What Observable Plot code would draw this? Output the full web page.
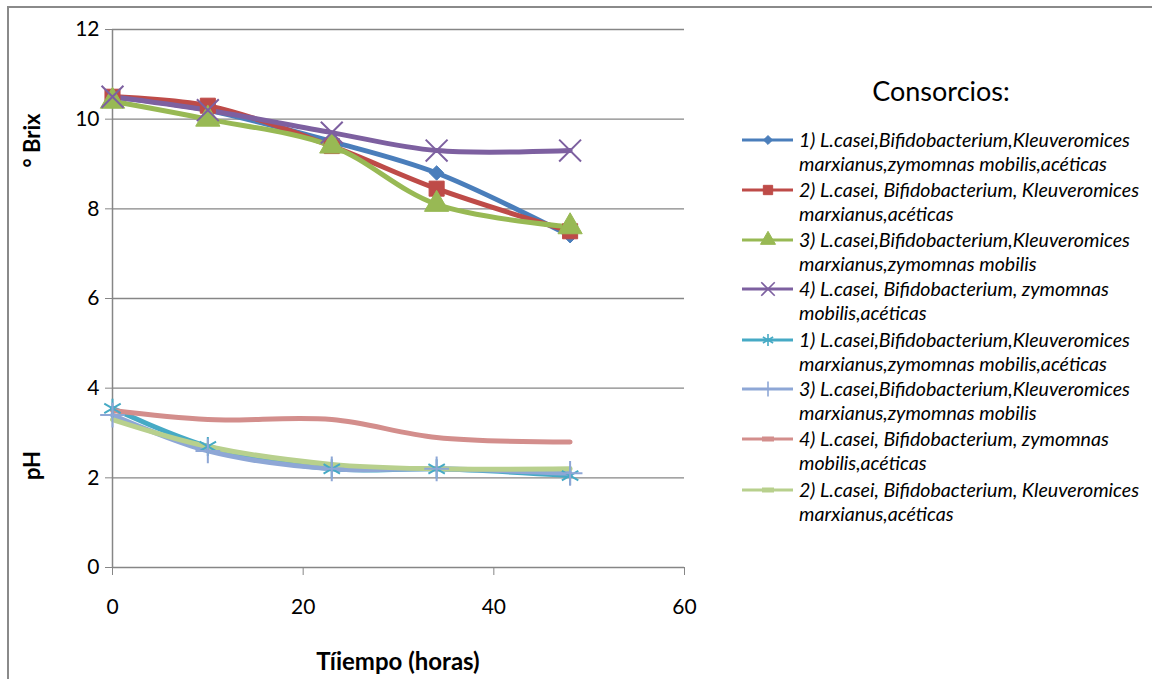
<!DOCTYPE html>
<html>
<head>
<meta charset="utf-8">
<script src="https://cdn.jsdelivr.net/npm/d3@7"></script>
<script src="https://cdn.jsdelivr.net/npm/@observablehq/plot@0.6"></script>
<style>
  html, body { margin: 0; padding: 0; background: #fff; }
  #wrap { position: relative; width: 1152px; height: 679px; overflow: hidden; font-family: Lato, "Open Sans", sans-serif; }
  #frame { position: absolute; left: 7px; top: 6px; width: 1150px; height: 720px; border: 2px solid #8a8a8a; box-sizing: border-box; }
  #chart { position: absolute; left: 0; top: 0; }
  .ytitle { position: absolute; font-weight: bold; font-size: 22px; transform: rotate(-90deg); transform-origin: center; white-space: nowrap; }
  #xtitle { position: absolute; font-weight: bold; font-size: 24px; white-space: nowrap; transform: translate(-50%, -50%); }
  #legend { position: absolute; left: 742px; top: 0; }
  #ltitle { position: absolute; left: 941px; top: 90px; font-size: 27px; transform: translate(-50%, -50%); white-space: nowrap; }
  .entry { position: absolute; left: 0; width: 410px; }
  .entry svg { position: absolute; left: 0; top: 0; }
  .entry .txt { position: absolute; left: 57px; top: -12px; font-size: 19.6px; font-style: italic; line-height: 23.5px; white-space: nowrap; }
</style>
</head>
<body>
<div id="wrap">
  <div id="frame"></div>
  <div id="chart"></div>
  <div class="ytitle" id="ybrix">° Brix</div>
  <div class="ytitle" id="yph">pH</div>
  <div id="xtitle">Tíiempo (horas)</div>
  <div id="ltitle">Consorcios:</div>
  <div id="legend"></div>
</div>
<script>
// ---- data ----
const hours = [0, 10, 23, 34, 48];
const brix1 = [10.5, 10.2, 9.5, 8.8, 7.4];
const brix2 = [10.5, 10.3, 9.4, 8.45, 7.5];
const brix3 = [10.4, 10.0, 9.4, 8.1, 7.6];
const brix4 = [10.5, 10.2, 9.7, 9.3, 9.3];
const ph1 = [3.55, 2.7, 2.2, 2.2, 2.05];
const ph3 = [3.4, 2.6, 2.2, 2.2, 2.1];
const ph4 = [3.5, 3.3, 3.3, 2.9, 2.8];
const ph2 = [3.3, 2.7, 2.3, 2.2, 2.2];
const seriesLabels = [
  ["1) L.casei,Bifidobacterium,Kleuveromices", "marxianus,zymomnas mobilis,acéticas"],
  ["2) L.casei, Bifidobacterium, Kleuveromices", "marxianus,acéticas"],
  ["3) L.casei,Bifidobacterium,Kleuveromices", "marxianus,zymomnas mobilis"],
  ["4) L.casei, Bifidobacterium, zymomnas", "mobilis,acéticas"],
  ["1) L.casei,Bifidobacterium,Kleuveromices", "marxianus,zymomnas mobilis,acéticas"],
  ["3) L.casei,Bifidobacterium,Kleuveromices", "marxianus,zymomnas mobilis"],
  ["4) L.casei, Bifidobacterium, zymomnas", "mobilis,acéticas"],
  ["2) L.casei, Bifidobacterium, Kleuveromices", "marxianus,acéticas"]
];
const xTicks = [0, 20, 40, 60];
const yTicks = [0, 2, 4, 6, 8, 10, 12];

// ---- styles ----
const seriesValues = [brix1, brix2, brix3, brix4, ph1, ph3, ph4, ph2];
const styles = [
  {color: "#4a7ebb", symbol: "diamond2", filled: true, r: 6.5},
  {color: "#be4b48", symbol: "square", filled: true, r: 8.5},
  {color: "#98b954", symbol: "triangle", filled: true, r: 9},
  {color: "#7d60a0", symbol: "times", filled: false, r: 10},
  {color: "#46aac5", symbol: "asterisk", filled: false, r: 9},
  {color: "#8ea7d6", symbol: "plus", filled: false, r: 8},
  {color: "#d38e8c", symbol: null},
  {color: "#b8d08d", symbol: null}
];

const series = seriesValues.map((vals, i) => hours.map((h, j) => ({x: h, y: vals[j], s: i})));

const marks = [
  Plot.ruleY([2, 4, 6, 8, 10, 12], {stroke: "#868686", strokeWidth: 1.3, strokeOpacity: 1}),
  Plot.ruleY([0], {stroke: "#868686", strokeWidth: 1.5}),
  Plot.ruleX([0], {stroke: "#868686", strokeWidth: 1.5, y1: 0, y2: 12}),
  Plot.axisX({ticks: xTicks, tickSize: 8, tickPadding: 24, fontSize: 21, label: null, tickFormat: d => String(d), stroke: "#868686"}),
  Plot.axisY({ticks: yTicks, tickSize: 7, tickPadding: 6, fontSize: 21, label: null, tickFormat: d => String(d), stroke: "#868686"})
];
// lines
series.forEach((data, i) => {
  marks.push(Plot.line(data, {x: "x", y: "y", stroke: styles[i].color, strokeWidth: 5, curve: "catmull-rom"}));
});
// markers
series.forEach((data, i) => {
  const st = styles[i];
  if (!st.symbol) return;
  marks.push(Plot.dot(data, {
    x: "x", y: "y", symbol: st.symbol, r: st.r,
    fill: st.filled ? st.color : "none",
    stroke: st.color, strokeWidth: st.filled ? 1 : 2
  }));
});

const chart = Plot.plot({
  width: 1152,
  height: 679,
  marginLeft: 112,
  marginRight: 468,
  marginTop: 29,
  marginBottom: 112,
  x: {domain: [0, 60]},
  y: {domain: [0, 12]},
  style: {fontFamily: "Lato, 'Open Sans', sans-serif", fontSize: "21px", color: "#000", background: "transparent", overflow: "visible"},
  marks
});
document.getElementById("chart").appendChild(chart);

// axis titles
function place(id, cx, cy) {
  const el = document.getElementById(id);
  const w = el.offsetWidth, h = el.offsetHeight;
  el.style.left = (cx - w / 2) + "px";
  el.style.top = (cy - h / 2) + "px";
}
place("ybrix", 31, 140);
place("yph", 31, 465);
const xt = document.getElementById("xtitle");
xt.style.left = "398px"; xt.style.top = "660px";

// legend
const legend = document.getElementById("legend");
const entryTops = [140, 190, 240, 289, 340, 389, 439, 490];
styles.forEach((st, i) => {
  const e = document.createElement("div");
  e.className = "entry";
  e.style.top = entryTops[i] + "px";
  const svgNS = "http://www.w3.org/2000/svg";
  const svg = document.createElementNS(svgNS, "svg");
  svg.setAttribute("width", 56); svg.setAttribute("height", 20);
  svg.style.top = "-10px";
  const line = document.createElementNS(svgNS, "line");
  line.setAttribute("x1", 0); line.setAttribute("x2", 51);
  line.setAttribute("y1", 10); line.setAttribute("y2", 10);
  line.setAttribute("stroke", st.color); line.setAttribute("stroke-width", 3.2);
  svg.appendChild(line);
  if (st.symbol) {
    const symMap = {diamond2: d3.symbolDiamond2, square: d3.symbolSquare, triangle: d3.symbolTriangle, times: d3.symbolTimes, asterisk: d3.symbolAsterisk, plus: d3.symbolPlus};
    const p = document.createElementNS(svgNS, "path");
    const size = Math.PI * Math.pow(st.r * 0.62, 2);
    p.setAttribute("d", d3.symbol(symMap[st.symbol], size)());
    p.setAttribute("transform", "translate(26,10)");
    p.setAttribute("fill", st.filled ? st.color : "none");
    p.setAttribute("stroke", st.color);
    p.setAttribute("stroke-width", st.filled ? 1 : 1.6);
    svg.appendChild(p);
  } else {
    const p = document.createElementNS(svgNS, "line");
    p.setAttribute("x1", 20); p.setAttribute("x2", 32);
    p.setAttribute("y1", 10); p.setAttribute("y2", 10);
    p.setAttribute("stroke", st.color); p.setAttribute("stroke-width", 5);
    svg.appendChild(p);
  }
  e.appendChild(svg);
  const t = document.createElement("div");
  t.className = "txt";
  t.innerHTML = seriesLabels[i][0] + "<br>" + seriesLabels[i][1];
  e.appendChild(t);
  legend.appendChild(e);
});
</script>
</body>
</html>
